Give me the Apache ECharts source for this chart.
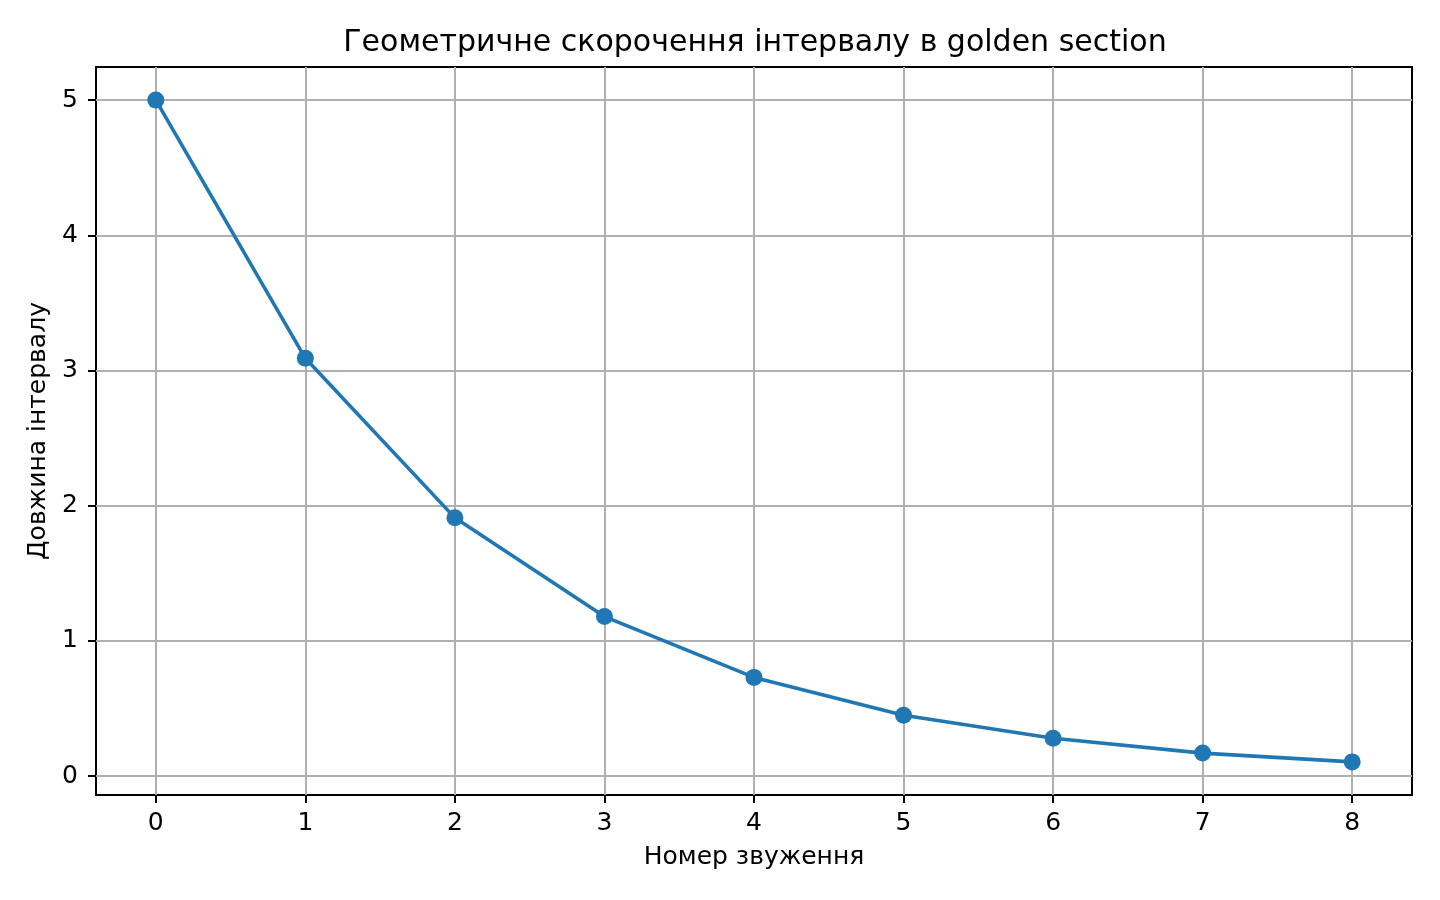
<!DOCTYPE html>
<html>
<head>
<meta charset="utf-8">
<title>Golden section</title>
<script src="https://cdn.jsdelivr.net/npm/echarts@6/dist/echarts.min.js"></script>
<style>
  html, body { margin: 0; padding: 0; background: #fff; }
  #chart { width: 1440px; height: 900px; }
</style>
</head>
<body>
<div id="chart"></div>
<script>
const steps = [0, 1, 2, 3, 4, 5, 6, 7, 8];
const lengths = [5.0, 3.09, 1.91, 1.18, 0.73, 0.45, 0.28, 0.17, 0.105];
const xTicks = [0, 1, 2, 3, 4, 5, 6, 7, 8];
const yTicks = [0, 1, 2, 3, 4, 5];

const FONT = '"DejaVu Sans", sans-serif';
const BLUE = '#1f77b4';
const GRID = '#b0b0b0';

const chart = echarts.init(document.getElementById('chart'), null, { renderer: 'canvas' });

const axisCommon = {
  type: 'value',
  axisLine: { show: false, onZero: false },
  axisTick: {
    show: true,
    inside: false,
    length: 8,
    lineStyle: { color: '#000', width: 2 },
  },
  splitLine: {
    show: true,
    lineStyle: { color: GRID, width: 2 },
  },
  nameTextStyle: { fontFamily: FONT, fontSize: 25, color: '#000' },
};

chart.setOption({
  animation: false,
  backgroundColor: '#fff',
  title: {
    text: 'Геометричне скорочення інтервалу в golden section',
    left: 750,
    top: 23,
    textAlign: 'center',
    textStyle: { fontFamily: FONT, fontSize: 30, fontWeight: 'normal', color: '#000' },
  },
  grid: {
    left: 96,
    top: 67,
    width: 1316,
    height: 728,
    show: true,
    borderColor: '#000',
    borderWidth: 2,
    backgroundColor: 'transparent',
  },
  xAxis: {
    ...axisCommon,
    min: -0.4,
    max: 8.4,
    name: 'Номер звуження',
    nameLocation: 'middle',
    nameGap: 50,
    axisTick: { ...axisCommon.axisTick, customValues: xTicks },
    axisLabel: {
      customValues: xTicks,
      margin: 16,
      fontFamily: FONT,
      fontSize: 25,
      color: '#000',
    },
  },
  yAxis: {
    ...axisCommon,
    min: -0.14,
    max: 5.245,
    name: 'Довжина інтервалу',
    nameLocation: 'middle',
    nameGap: 44,
    axisTick: { ...axisCommon.axisTick, customValues: yTicks },
    axisLabel: {
      customValues: yTicks,
      margin: 18,
      fontFamily: FONT,
      fontSize: 25,
      color: '#000',
    },
  },
  series: [
    {
      type: 'line',
      data: steps.map((s, i) => [s, lengths[i]]),
      symbol: 'circle',
      symbolSize: 17,
      showSymbol: true,
      clip: false,
      lineStyle: { color: BLUE, width: 3.6 },
      itemStyle: { color: BLUE },
      z: 3,
    },
  ],
});
</script>
</body>
</html>
